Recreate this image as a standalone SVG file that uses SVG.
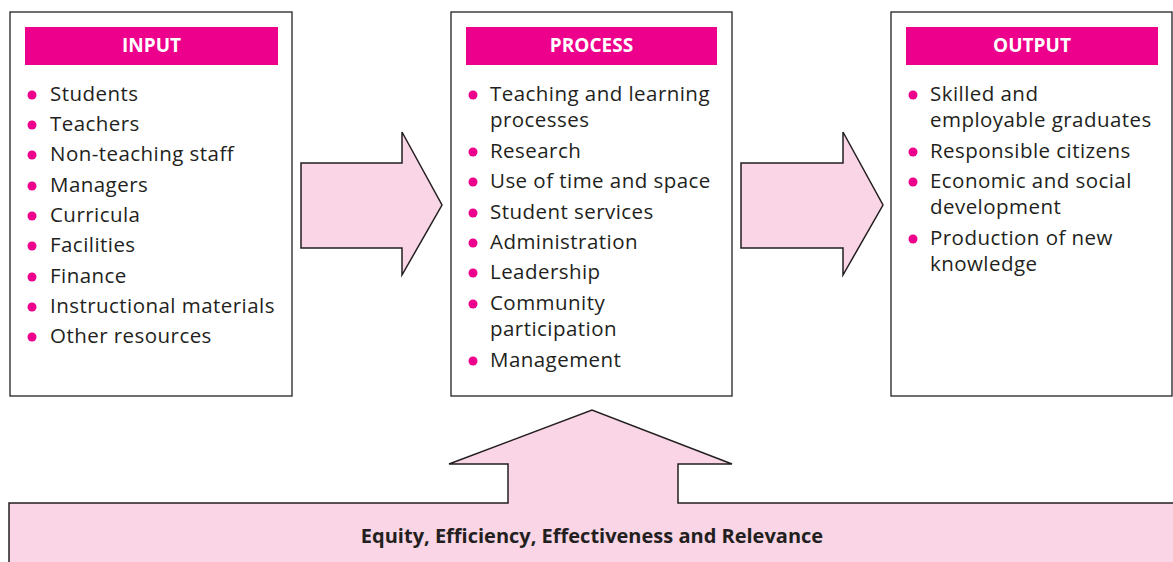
<svg xmlns="http://www.w3.org/2000/svg" width="1173" height="562" viewBox="0 0 1173 562">
<style>
.box{fill:#fff;stroke:#231F20;stroke-width:1.3}
.hdr{fill:#EC008C}
.ht{font-family:"Open Sans","Noto Sans",sans-serif;font-weight:bold;font-size:19px;fill:#fff;text-anchor:middle}
.t{font-family:"Open Sans","Noto Sans",sans-serif;font-size:20.5px;letter-spacing:0.45px;fill:#231F20}
.b{fill:#EC008C}
.arr{fill:#F9D5E5;stroke:#231F20;stroke-width:1.5;stroke-linejoin:miter}
.bt{font-family:"Open Sans","Noto Sans",sans-serif;font-weight:bold;font-size:20px;fill:#231F20;text-anchor:middle}
</style>
<g id="connectors">
<path class="arr" d="M301,163 L402,163 L402,132 L442,205 L402,275 L402,248 L301,248 Z"/>
<path class="arr" d="M741,163 L843,163 L843,132 L883,205 L843,275 L843,248 L741,248 Z"/>
</g>
<g id="foundation">
<path class="arr" d="M9,570 L9,503 L508,503 L508,464 L449,464 L592,410 L732,464 L678,464 L678,503 L1180,503 L1180,570 Z"/>
<text class="bt" x="592" y="543">Equity, Efficiency, Effectiveness and Relevance</text>
</g>
<g id="input">
<rect class="box" x="10" y="12" width="282" height="384"/>
<rect class="hdr" x="25" y="27" width="253" height="38"/>
<text class="ht" x="151.5" y="52">INPUT</text>
<g class="b">
<circle cx="32" cy="95" r="4.5"/><circle cx="32" cy="125" r="4.5"/><circle cx="32" cy="155" r="4.5"/><circle cx="32" cy="186" r="4.5"/><circle cx="32" cy="216" r="4.5"/><circle cx="32" cy="246" r="4.5"/><circle cx="32" cy="277" r="4.5"/><circle cx="32" cy="307" r="4.5"/><circle cx="32" cy="337" r="4.5"/>
</g>
<text class="t" x="50" y="101">Students</text>
<text class="t" x="50" y="131">Teachers</text>
<text class="t" x="50" y="161">Non-teaching staff</text>
<text class="t" x="50" y="192">Managers</text>
<text class="t" x="50" y="222">Curricula</text>
<text class="t" x="50" y="252">Facilities</text>
<text class="t" x="50" y="283">Finance</text>
<text class="t" x="50" y="313">Instructional materials</text>
<text class="t" x="50" y="343">Other resources</text>
</g>
<g id="process">
<rect class="box" x="451" y="12" width="281" height="384"/>
<rect class="hdr" x="466" y="27" width="251" height="38"/>
<text class="ht" x="591.5" y="52">PROCESS</text>
<g class="b">
<circle cx="473" cy="95" r="4.5"/><circle cx="473" cy="152" r="4.5"/><circle cx="473" cy="182" r="4.5"/><circle cx="473" cy="213" r="4.5"/><circle cx="473" cy="243" r="4.5"/><circle cx="473" cy="273" r="4.5"/><circle cx="473" cy="304" r="4.5"/><circle cx="473" cy="361" r="4.5"/>
</g>
<text class="t" x="490" y="101">Teaching and learning</text>
<text class="t" x="490" y="127">processes</text>
<text class="t" x="490" y="158">Research</text>
<text class="t" x="490" y="188">Use of time and space</text>
<text class="t" x="490" y="219">Student services</text>
<text class="t" x="490" y="249">Administration</text>
<text class="t" x="490" y="279">Leadership</text>
<text class="t" x="490" y="310">Community</text>
<text class="t" x="490" y="336">participation</text>
<text class="t" x="490" y="367">Management</text>
</g>
<g id="output">
<rect class="box" x="891" y="12" width="281" height="384"/>
<rect class="hdr" x="906" y="27" width="252" height="38"/>
<text class="ht" x="1032" y="52">OUTPUT</text>
<g class="b">
<circle cx="913" cy="95" r="4.5"/><circle cx="913" cy="152" r="4.5"/><circle cx="913" cy="182" r="4.5"/><circle cx="913" cy="239" r="4.5"/>
</g>
<text class="t" x="930" y="101">Skilled and</text>
<text class="t" x="930" y="127">employable graduates</text>
<text class="t" x="930" y="158">Responsible citizens</text>
<text class="t" x="930" y="188">Economic and social</text>
<text class="t" x="930" y="214">development</text>
<text class="t" x="930" y="245">Production of new</text>
<text class="t" x="930" y="271">knowledge</text>
</g>
</svg>
